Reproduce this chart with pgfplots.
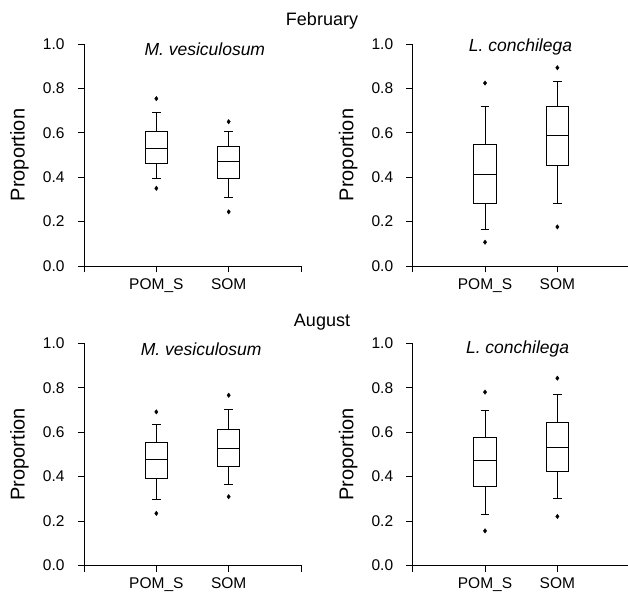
\documentclass[border=0pt]{standalone}
\usepackage{fontspec}
\setmainfont{Liberation Sans}
\usepackage{pgfplots}
\pgfplotsset{compat=1.18}
\usepgfplotslibrary{statistics}

\pgfplotsset{
  panel/.style={
    scale only axis, width=217pt, height=222pt,
    xmin=0, xmax=3, ymin=0, ymax=1,
    axis x line*=bottom, axis y line*=left,
    axis line style={black, line width=0.8pt},
    tick align=outside, major tick length=6.5pt,
    tick style={black, line width=0.8pt},
    xtick={0,1,2,3}, xticklabels={,POM\_S,SOM,},
    ytick={0,0.2,0.4,0.6,0.8,1},
    /pgf/number format/assume math mode=true,
    yticklabel style={/pgf/number format/fixed, /pgf/number format/fixed zerofill,
      /pgf/number format/precision=1, xshift=-9.5pt},
    xticklabel style={yshift=-2.5pt},
    tick label style={font=\fontsize{15.5}{18}\selectfont},
    ylabel={Proportion},
    every axis y label/.style={at={(axis description cs:0,0.5)}, xshift=-64.6pt,
      rotate=90, anchor=center, font=\fontsize{20}{24}\selectfont},
    boxplot/draw direction=y,
    boxplot/box extend=0.31,
    boxplot/whisker extend=0.12,
    clip=false,
  },
  bx/.style={black, line width=0.8pt, mark=diamond*, mark size=2.2pt,
    mark options={fill=black, line width=0.4pt}, boxplot prepared={#1}},
}
\tikzset{sp/.style={anchor=base, font=\itshape\fontsize{17.5}{20}\selectfont}}

\begin{document}
\begin{tikzpicture}

% February, M. vesiculosum
\begin{axis}[panel, at={(84pt,331pt)}]
\addplot[bx={lower whisker=0.395, lower quartile=0.460, median=0.530,
  upper quartile=0.605, upper whisker=0.691, draw position=1}]
  coordinates {(0,0.754) (0,0.350)};
\addplot[bx={lower whisker=0.309, lower quartile=0.396, median=0.470,
  upper quartile=0.540, upper whisker=0.606, draw position=2}]
  coordinates {(0,0.650) (0,0.244)};
\node[sp] at (axis cs:1.67,0.95) {M. vesiculosum};
\end{axis}

% February, L. conchilega
\begin{axis}[panel, at={(412.7pt,331pt)}]
\addplot[bx={lower whisker=0.167, lower quartile=0.282, median=0.413,
  upper quartile=0.549, upper whisker=0.717, draw position=1}]
  coordinates {(0,0.824) (0,0.107)};
\addplot[bx={lower whisker=0.280, lower quartile=0.452, median=0.588,
  upper quartile=0.719, upper whisker=0.831, draw position=2}]
  coordinates {(0,0.893) (0,0.176)};
\node[sp] at (axis cs:1.49,0.965) {L. conchilega};
\end{axis}

% August, M. vesiculosum
\begin{axis}[panel, at={(84pt,31.7pt)}]
\addplot[bx={lower whisker=0.296, lower quartile=0.392, median=0.477,
  upper quartile=0.552, upper whisker=0.635, draw position=1}]
  coordinates {(0,0.691) (0,0.234)};
\addplot[bx={lower whisker=0.363, lower quartile=0.446, median=0.525,
  upper quartile=0.611, upper whisker=0.703, draw position=2}]
  coordinates {(0,0.766) (0,0.309)};
\node[sp] at (axis cs:1.62,0.945) {M. vesiculosum};
\end{axis}

% August, L. conchilega
\begin{axis}[panel, at={(412.7pt,31.7pt)}]
\addplot[bx={lower whisker=0.231, lower quartile=0.357, median=0.471,
  upper quartile=0.575, upper whisker=0.698, draw position=1}]
  coordinates {(0,0.780) (0,0.155)};
\addplot[bx={lower whisker=0.302, lower quartile=0.425, median=0.529,
  upper quartile=0.644, upper whisker=0.771, draw position=2}]
  coordinates {(0,0.843) (0,0.220)};
\node[sp] at (axis cs:1.45,0.955) {L. conchilega};
\end{axis}

\node[anchor=base, font=\fontsize{18}{21}\selectfont] at (322pt,571pt) {February};
\node[anchor=base, font=\fontsize{18}{21}\selectfont] at (322pt,270.3pt) {August};

\pgfresetboundingbox
\path[use as bounding box] (0,0) rectangle (628pt,597pt);
\end{tikzpicture}
\end{document}
